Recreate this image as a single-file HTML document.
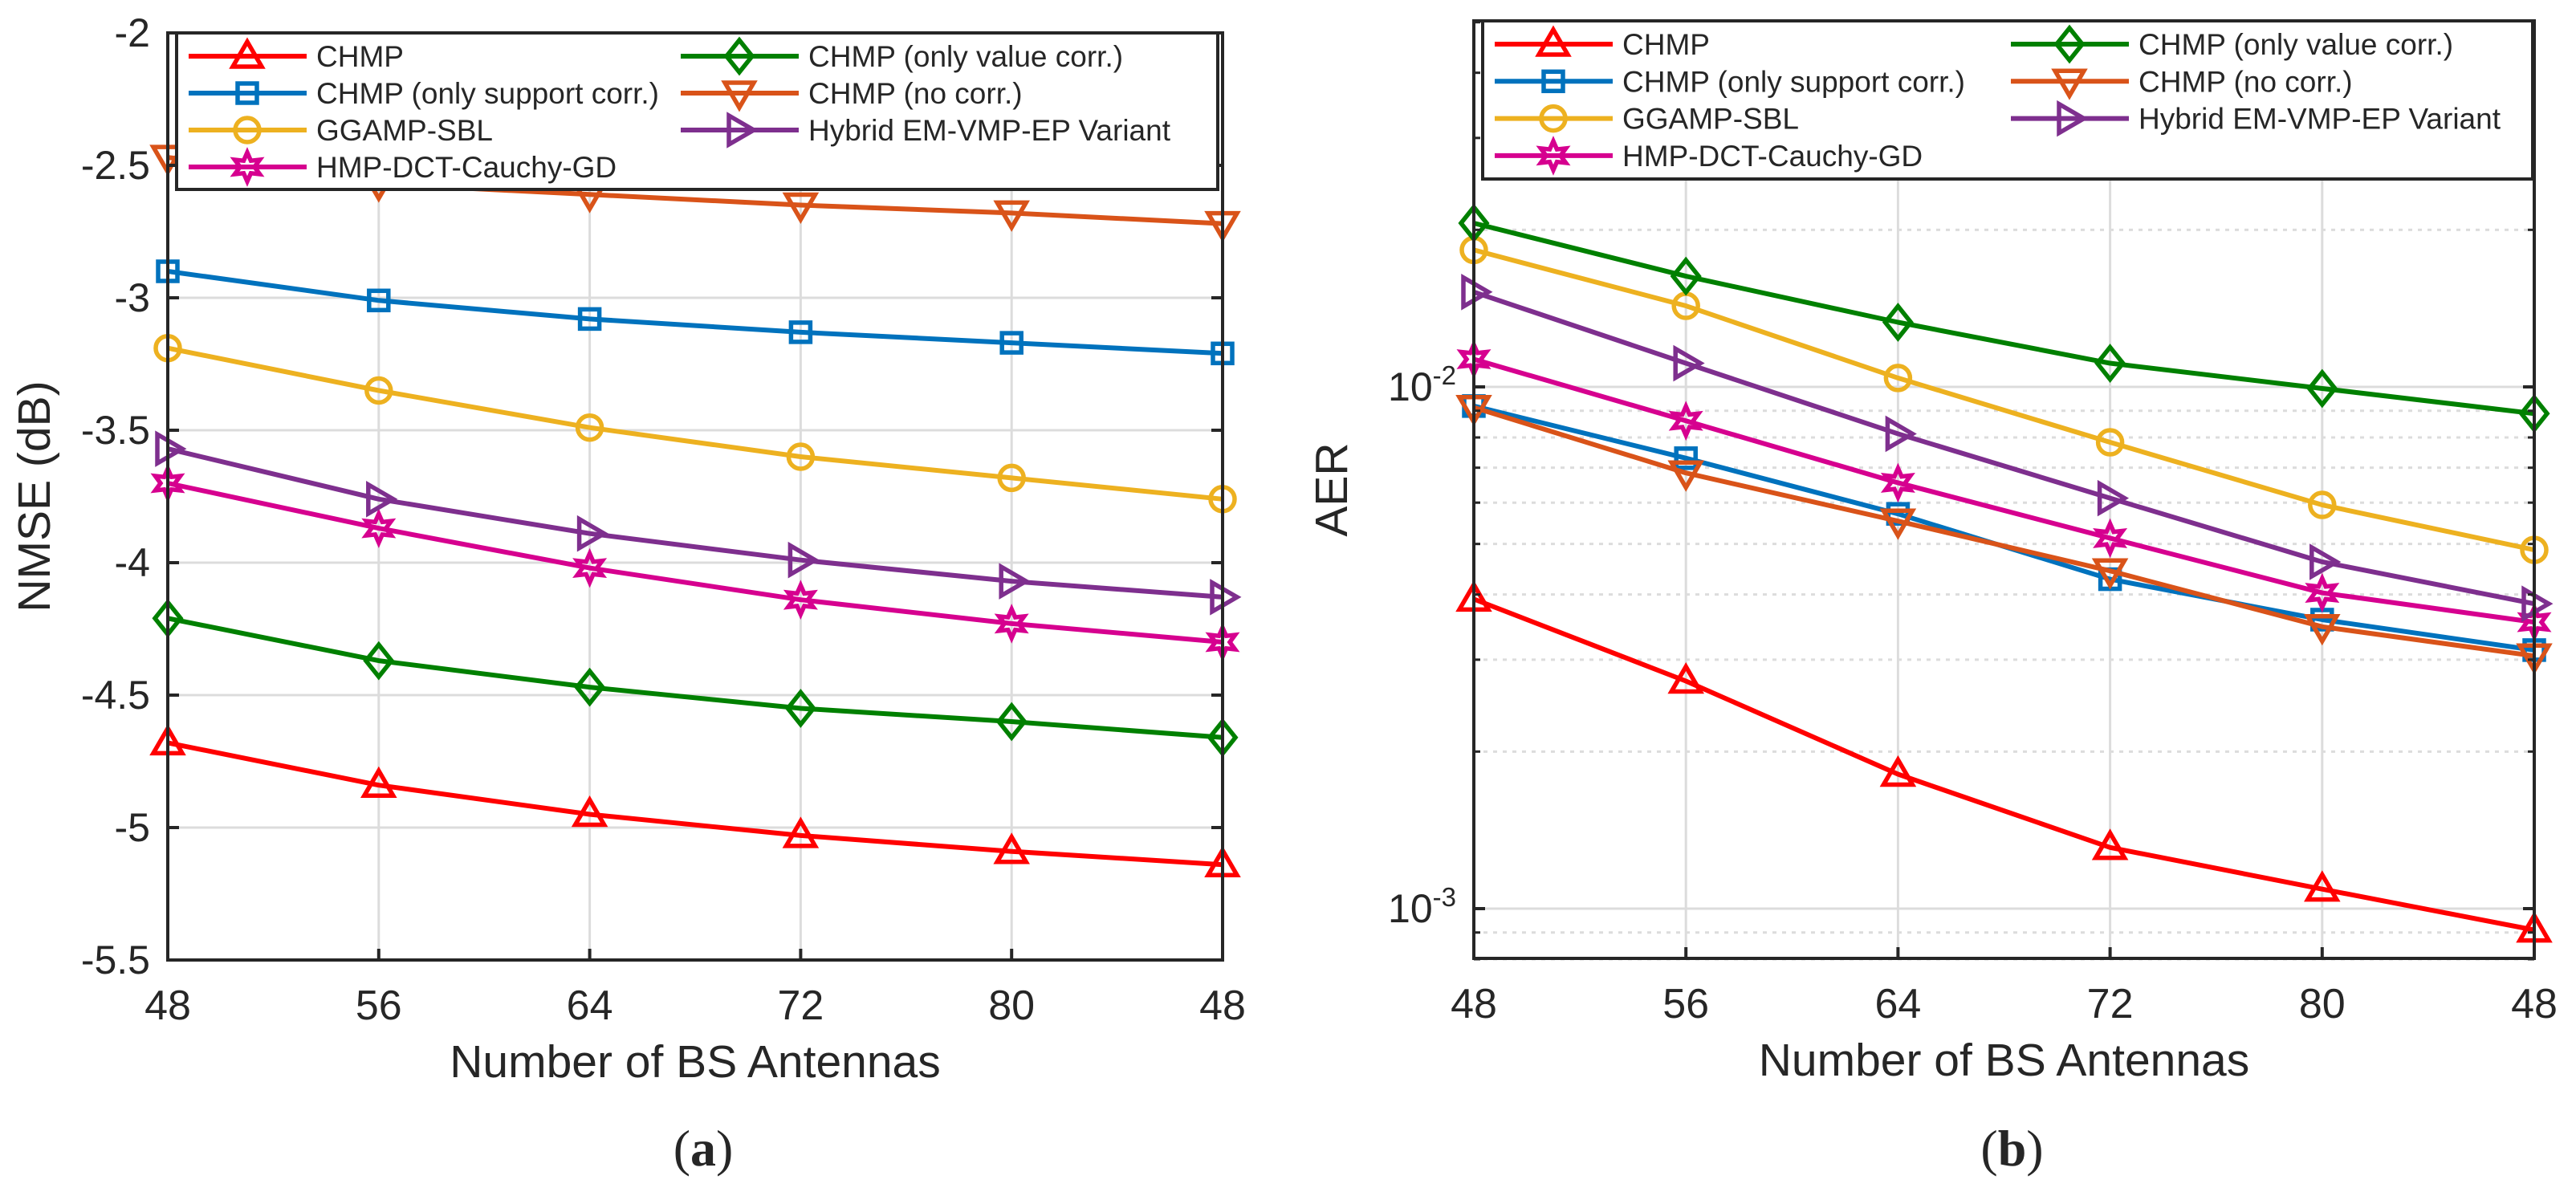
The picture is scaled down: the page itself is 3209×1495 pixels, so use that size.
<!DOCTYPE html>
<html><head><meta charset="utf-8"><style>
html,body{margin:0;padding:0;background:#fff}
svg{display:block}
text{font-family:"Liberation Sans",Arial,sans-serif;fill:#262626}
</style></head><body>
<svg id="fig" width="3209" height="1495" viewBox="0 0 3209 1495" xmlns="http://www.w3.org/2000/svg"></svg>
<script>
const xLabels = ["48","56","64","72","80","48"];
const seriesNames = ["CHMP","CHMP (only support corr.)","GGAMP-SBL","HMP-DCT-Cauchy-GD","CHMP (only value corr.)","CHMP (no corr.)","Hybrid EM-VMP-EP Variant"];
const nmseChmp = [-4.68,-4.84,-4.95,-5.03,-5.09,-5.14];
const nmseSupport = [-2.90,-3.01,-3.08,-3.13,-3.17,-3.21];
const nmseGgamp = [-3.19,-3.35,-3.49,-3.60,-3.68,-3.76];
const nmseHmp = [-3.70,-3.87,-4.02,-4.14,-4.23,-4.30];
const nmseValue = [-4.21,-4.37,-4.47,-4.55,-4.60,-4.66];
const nmseNoCorr = [-2.47,-2.57,-2.61,-2.65,-2.68,-2.72];
const nmseHybrid = [-3.57,-3.76,-3.89,-3.99,-4.07,-4.13];
const nmseTicks = [-2,-2.5,-3,-3.5,-4,-4.5,-5,-5.5];
const aerChmp = [0.00392,0.00273,0.00181,0.00131,0.00109,0.00091];
const aerSupport = [0.00919,0.0073,0.00571,0.00428,0.00358,0.00313];
const aerGgamp = [0.0183,0.0143,0.0104,0.00783,0.00594,0.00487];
const aerHmp = [0.0113,0.00861,0.00655,0.00513,0.00403,0.00354];
const aerValue = [0.0206,0.0163,0.0133,0.0111,0.00993,0.00889];
const aerNoCorr = [0.00913,0.00684,0.00553,0.00444,0.00347,0.00305];
const aerHybrid = [0.0152,0.0111,0.00813,0.00612,0.00462,0.00384];

const NS="http://www.w3.org/2000/svg";
const svg=document.getElementById('fig');
function el(tag,attrs,parent){const e=document.createElementNS(NS,tag);for(const k in attrs)e.setAttribute(k,attrs[k]);(parent||svg).appendChild(e);return e;}
const colors=["#FF0000","#0072BD","#EDB120","#D6008F","#008000","#D95319","#7E2F8E"];
const markers=["tri","square","circle","hex","diamond","tridown","triright"];
const slugs=["chmp","chmp-only-support","ggamp-sbl","hmp-dct-cauchy-gd","chmp-only-value","chmp-no-corr","hybrid-em-vmp-ep"];

function marker(g,type,x,y,c){
  const sw=5.5;let e;
  if(type==="circle"){e=el('circle',{cx:x,cy:y,r:15,fill:'none',stroke:c,'stroke-width':sw},g);}
  else if(type==="square"){e=el('rect',{x:x-12,y:y-12,width:24,height:24,fill:'none',stroke:c,'stroke-width':sw},g);}
  else{
    let pts;
    if(type==="tri")pts=[[0,-18],[18,13],[-18,13]];
    else if(type==="tridown")pts=[[0,18],[18,-13],[-18,-13]];
    else if(type==="triright")pts=[[18,0],[-13,-18],[-13,18]];
    else if(type==="diamond")pts=[[0,-20],[16,0],[0,20],[-16,0]];
    else{pts=[];for(let i=0;i<12;i++){const a=-Math.PI/2+i*Math.PI/6;const r=i%2?9:18;pts.push([r*Math.cos(a),r*Math.sin(a)]);}}
    e=el('polygon',{points:pts.map(p=>(x+p[0])+','+(y+p[1])).join(' '),fill:'none',stroke:c,'stroke-width':sw,'stroke-linejoin':'miter'},g);
  }
  return e;
}

function drawPlot(cfg){
  const {L,R,T,B,yf,data,ticks,tickLabel,minor,name}=cfg;
  const gp=el('g',{});
  
  
  const xf=i=>L+(R-L)*i/(xLabels.length-1);
  const grid=el('g',{},gp);
  
  
  xLabels.forEach((_,i)=>{if(i>0&&i<xLabels.length-1)el('line',{x1:xf(i),x2:xf(i),y1:T,y2:B,stroke:'#dcdcdc','stroke-width':3},grid);});
  ticks.forEach(t=>{const y=yf(t);if(y>T+2&&y<B-2)el('line',{x1:L,x2:R,y1:y,y2:y,stroke:'#dcdcdc','stroke-width':3},grid);});
  (minor||[]).forEach(t=>{const y=yf(t);el('line',{x1:L,x2:R,y1:y,y2:y,stroke:'#dcdcdc','stroke-width':3,'stroke-dasharray':'5 7'},grid);});
  data.forEach((vals,s)=>{
    const g=el('g',{},gp);
    
    
    el('polyline',{points:vals.map((v,i)=>xf(i)+','+yf(v)).join(' '),fill:'none',stroke:colors[s],'stroke-width':6,'stroke-linejoin':'round'},g);
    vals.forEach((v,i)=>{const m=marker(g,markers[s],xf(i),yf(v),colors[s]);
      
      });
  });
  const ax=el('rect',{x:L,y:T,width:R-L,height:B-T,fill:'none',stroke:'#262626','stroke-width':4},gp);
  
  
  ticks.forEach(t=>{const y=yf(t);
    el('line',{x1:L,x2:L+14,y1:y,y2:y,stroke:'#262626','stroke-width':4},gp);
    el('line',{x1:R,x2:R-14,y1:y,y2:y,stroke:'#262626','stroke-width':4},gp);
    const tx=tickLabel(t,L-22,y,gp);
    
    });
  (minor||[]).forEach(t=>{const y=yf(t);
    el('line',{x1:L,x2:L+8,y1:y,y2:y,stroke:'#262626','stroke-width':3},gp);
    el('line',{x1:R,x2:R-8,y1:y,y2:y,stroke:'#262626','stroke-width':3},gp);});
  xLabels.forEach((lab,i)=>{
    el('line',{x1:xf(i),x2:xf(i),y1:B,y2:B-14,stroke:'#262626','stroke-width':4},gp);
    const t=el('text',{x:xf(i),y:B+74,'text-anchor':'middle','font-size':52},gp);t.textContent=lab;
    
    });
  const xt=el('text',{x:(L+R)/2,y:B+146,'text-anchor':'middle','font-size':57},gp);xt.textContent='Number of BS Antennas';
  
  
  const yt=el('text',{x:cfg.ytx,y:(T+B)/2,'text-anchor':'middle','font-size':57,transform:`rotate(-90 ${cfg.ytx} ${(T+B)/2})`},gp);yt.textContent=cfg.ytitle;
  
  
  const cap=el('text',{x:(L+R)/2+10,y:1452,'text-anchor':'middle','font-size':64,style:'font-family:"Liberation Serif",serif'},gp);
  cap.innerHTML='(<tspan font-weight="bold">'+cfg.cap+'</tspan>)';
  
  
  const lg=el('g',{},gp);
  
  
  const Lg=cfg.leg;
  el('rect',{x:Lg.x,y:Lg.y,width:Lg.w,height:Lg.h,fill:'#fff',stroke:'#262626','stroke-width':4},lg);
  seriesNames.forEach((nm,s)=>{
    const col=s<4?0:1,row=s<4?s:s-4;
    const lx=col?Lg.c2:Lg.c1,y=Lg.r0+row*Lg.dr;
    const e=el('g',{},lg);
    
    
    el('line',{x1:lx,x2:lx+147,y1:y,y2:y,stroke:colors[s],'stroke-width':6},e);
    marker(e,markers[s],lx+73,y,colors[s]);
    const t=el('text',{x:lx+159,y:y+13,'font-size':37},e);t.textContent=nm;
  });
}

{
  const T=41,B=1196;
  drawPlot({name:'nmse-chart',L:209,R:1523,T,B,yf:v=>T+(-2-v)*(B-T)/3.5,
    data:[nmseChmp,nmseSupport,nmseGgamp,nmseHmp,nmseValue,nmseNoCorr,nmseHybrid],
    ticks:nmseTicks,
    tickLabel:(t,x,y,g)=>{const e=el('text',{x:x,y:y+17,'text-anchor':'end','font-size':50},g);e.textContent=String(t);return e;},
    ytx:62,ytitle:'NMSE (dB)',cap:'a',
    leg:{x:220,y:41,w:1297,h:195,c1:235,c2:848,r0:70,dr:46}});
}
{
  const T=26,B=1194,y2=482,dec=650;
  const yf=v=>y2-(Math.log10(v)+2)*dec;
  const minor=[];for(let m=8;m<=9;m++)minor.push(m*1e-4);for(let m=2;m<=9;m++)minor.push(m*1e-3);for(let m=2;m<=5;m++)minor.push(m*1e-2);
  drawPlot({name:'aer-chart',L:1836,R:3157,T,B,yf,
    data:[aerChmp,aerSupport,aerGgamp,aerHmp,aerValue,aerNoCorr,aerHybrid],
    ticks:[0.01,0.001],minor,
    tickLabel:(t,x,y,g)=>{const e=el('text',{x:x,y:y+17,'text-anchor':'end','font-size':50},g);
      e.innerHTML='10<tspan dy="-20" font-size="33">'+Math.round(Math.log10(t))+'</tspan>';return e;},
    ytx:1678,ytitle:'AER',cap:'b',
    leg:{x:1847,y:26,w:1308,h:197,c1:1862,c2:2505,r0:55,dr:46.3}});
}
</script>
</body></html>
